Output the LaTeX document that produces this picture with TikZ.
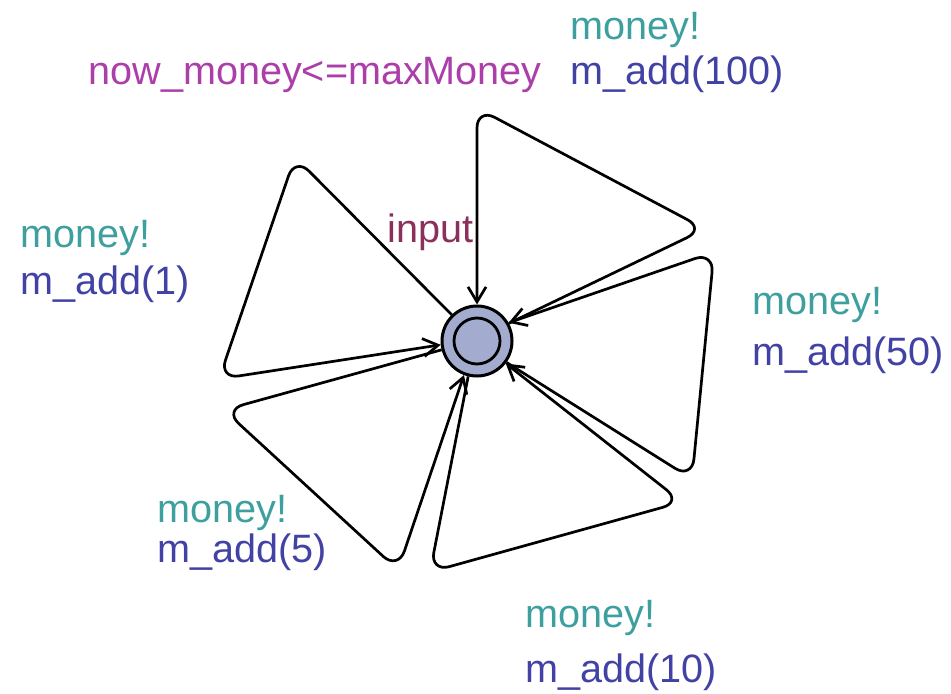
\documentclass[tikz,border=0pt]{standalone}
\usepackage{fontspec}
\setmainfont{Liberation Sans}
\usetikzlibrary{arrows.meta}
\definecolor{locfill}{RGB}{163,172,206}
\definecolor{synccol}{RGB}{62,160,158}
\definecolor{updcol}{RGB}{66,66,165}
\definecolor{guardcol}{RGB}{172,62,170}
\definecolor{namecol}{RGB}{138,48,92}

\begin{document}
\begin{tikzpicture}[x=0.5pt, y=-0.5pt, every node/.style={font=\fontsize{19.8}{23}\selectfont, inner sep=0pt}, loc/.style={draw,circle,line width=1.5pt,fill=locfill,minimum size=35pt}, inloc/.style={draw,circle,line width=1.4pt,minimum size=23pt}, edge/.style={line width=1.35pt,rounded corners=10pt,-{Straight Barb[length=7.5pt,width=9pt]}}, lbl/.style={anchor=base west}]
\useasboundingbox (0,0) rectangle (951,694);
\node[loc] (input) at (477,341) {};
\node[inloc] (inner) at (477,341) {};
\node[lbl,text=namecol] (name) at (387,243) {input};
\node[lbl,text=guardcol] (guard) at (88,85) {now\_money<=maxMoney};
\node[lbl,text=synccol] (sync100) at (570,40) {money!};
\node[lbl,text=updcol] (upd100) at (570,85) {m\_add(100)};
\node[lbl,text=synccol] (sync1) at (20,248) {money!};
\node[lbl,text=updcol] (upd1) at (20,295) {m\_add(1)};
\node[lbl,text=synccol] (sync50) at (752,315) {money!};
\node[lbl,text=updcol] (upd50) at (752,365) {m\_add(50)};
\node[lbl,text=synccol] (sync5) at (157,522) {money!};
\node[lbl,text=updcol] (upd5) at (157,562) {m\_add(5)};
\node[lbl,text=synccol] (sync10) at (525,627) {money!};
\node[lbl,text=updcol] (upd10) at (525,682) {m\_add(10)};
\draw[edge] (input.29) -- (705,229) -- (477,108) -- (input.north);
\draw[edge] (input.-36) -- (692,479) -- (714,252) -- (input.30);
\draw[edge] (input.-104) -- (430,572) -- (682,502) -- (input.-38);
\draw[edge] (input.194) -- (224,410) -- (398,570) -- (input.-111);
\draw[edge] (input.134) -- (295,157) -- (219,379) -- (input.186);
\end{tikzpicture}
\end{document}
